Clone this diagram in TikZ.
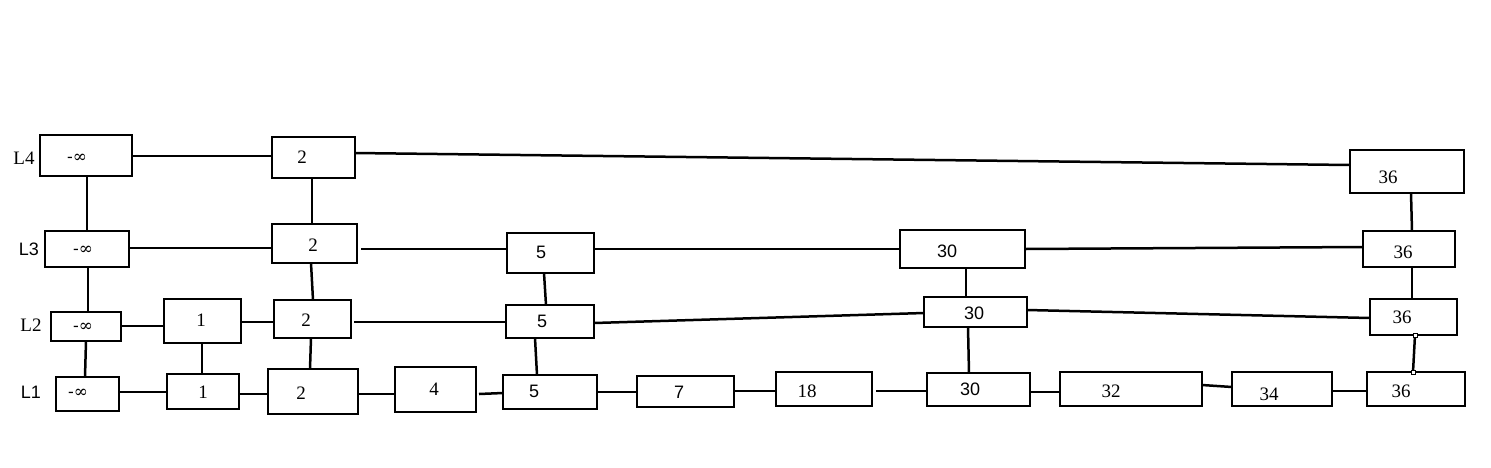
\documentclass[tikz,border=0pt]{standalone}
\usepackage{fontspec}
\setmainfont{Liberation Serif}
\newfontfamily\sansf{Liberation Sans}
\newfontfamily\inff{DejaVu Serif}
\tikzset{
  bx/.style={draw, line width=2.8pt, inner sep=0pt, outer sep=0pt},
  lbl/.style={inner sep=0pt, font=\fontsize{19}{19}\selectfont},
  lbls/.style={inner sep=0pt, font=\fontsize{18}{18}\selectfont\sansf},
  lbli/.style={inner sep=0pt, font=\fontsize{17}{17}\selectfont\inff},
  ln/.style={line width=2.5pt},
  pin/.style={draw, fill=white, line width=0.7pt, minimum size=4pt, inner sep=0pt}
}
\newcommand\mybox[9]{%
  \pgfmathsetmacro\bw{#4-#2}\pgfmathsetmacro\bh{#5-#3}%
  \node[bx, minimum width=\bw pt, minimum height=\bh pt] (#1) at ({(#2+#4)/2},{(#3+#5)/2}) {};
  \node[#8] (#1t) at (#6,#7) {#9};
}
\begin{document}
\begin{tikzpicture}[x=1pt,y=-1pt]
\useasboundingbox[fill=white] (0,0) rectangle (1491,467);
% level labels
\node[lbl] (L4) at (24,158) {L4};
\node[lbls] (L3) at (29,249) {L3};
\node[lbl] (L2) at (31,325) {L2};
\node[lbls] (L1) at (31,392) {L1};
% L4
\mybox{a4}{40}{135}{132}{176}{77}{158}{lbli}{-∞}
\mybox{b4}{272}{137}{355}{178}{302}{157}{lbl}{2}
\mybox{h4}{1350}{150}{1464}{193}{1388}{177}{lbl}{36}
% L3
\mybox{a3}{45}{231}{129}{267}{83}{250}{lbli}{-∞}
\mybox{b3}{272}{224}{357}{263}{313}{245}{lbl}{2}
\mybox{e3}{507}{233}{594}{273}{541}{252}{lbls}{5}
\mybox{g3}{900}{230}{1025}{268}{947}{251}{lbls}{30}
\mybox{h3}{1363}{231}{1455}{267}{1403}{252}{lbl}{36}
% L2
\mybox{a2}{51}{312}{121}{341}{83}{327}{lbli}{-∞}
\mybox{c2}{164}{299}{241}{343}{201}{320}{lbl}{1}
\mybox{b2}{274}{300}{351}{338}{306}{320}{lbl}{2}
\mybox{e2}{506}{305}{594}{338}{542}{321}{lbls}{5}
\mybox{g2}{924}{297}{1027}{327}{974}{313}{lbls}{30}
\mybox{h2}{1370}{299}{1457}{335}{1402}{317}{lbl}{36}
% L1
\mybox{a1}{56}{377}{119}{411}{78}{393}{lbli}{-∞}
\mybox{c1}{167}{374}{239}{409}{203}{392}{lbl}{1}
\mybox{b1}{268}{369}{358}{414}{301}{393}{lbl}{2}
\mybox{d1}{395}{367}{476}{412}{434}{389}{lbl}{4}
\mybox{e1}{503}{375}{597}{409}{534}{391}{lbls}{5}
\mybox{f1}{637}{376}{734}{407}{679}{392}{lbls}{7}
\mybox{k1}{776}{372}{872}{406}{807}{391}{lbl}{18}
\mybox{g1}{927}{373}{1030}{406}{970}{389}{lbls}{30}
\mybox{m1}{1060}{372}{1202}{406}{1111}{391}{lbl}{32}
\mybox{n1}{1232}{372}{1332}{406}{1269}{394}{lbl}{34}
\mybox{h1}{1367}{372}{1465}{406}{1401}{391}{lbl}{36}
% horizontal links
\draw[ln] (a4.east |- 0,156) -- (b4.west |- 0,156);
\draw[ln] (b4.east |- 0,153) -- (h4.west |- 0,165);
\draw[ln] (a3.east |- 0,248) -- (b3.west |- 0,248);
\draw[ln] ([xshift=4pt]b3.east |- 0,249) -- (e3.west |- 0,249);
\draw[ln] (e3.east |- 0,249) -- (g3.west |- 0,249);
\draw[ln] (g3.east |- 0,249) -- (h3.west |- 0,247);
\draw[ln] (a2.east |- 0,326) -- (c2.west |- 0,326);
\draw[ln] (c2.east |- 0,322) -- (b2.west |- 0,322);
\draw[ln] ([xshift=3pt]b2.east |- 0,322) -- (e2.west |- 0,322);
\draw[ln] (e2.east |- 0,323) -- (g2.west |- 0,313);
\draw[ln] (g2.east |- 0,310) -- (h2.west |- 0,318);
\draw[ln] (a1.east |- 0,392) -- (c1.west |- 0,392);
\draw[ln] (c1.east |- 0,394) -- (b1.west |- 0,394);
\draw[ln] (b1.east |- 0,394) -- (d1.west |- 0,394);
\draw[ln] ([xshift=3pt]d1.east |- 0,394) -- (e1.west |- 0,393);
\draw[ln] (e1.east |- 0,392) -- (f1.west |- 0,392);
\draw[ln] (f1.east |- 0,391) -- (k1.west |- 0,391);
\draw[ln] ([xshift=4pt]k1.east |- 0,391) -- (g1.west |- 0,391);
\draw[ln] (g1.east |- 0,392) -- (m1.west |- 0,392);
\draw[ln] (m1.east |- 0,385) -- (n1.west |- 0,387);
\draw[ln] (n1.east |- 0,391) -- (h1.west |- 0,391);
% vertical links
\draw[ln] (a4.south -| 87,0) -- (a3.north -| 87,0);
\draw[ln] (a3.south -| 88,0) -- (a2.north -| 88,0);
\draw[ln] (a2.south -| 86,0) -- (a1.north -| 85,0);
\draw[ln] (c2.south -| 202,0) -- (c1.north -| 202,0);
\draw[ln] (b4.south -| 312,0) -- (b3.north -| 312,0);
\draw[ln] (b3.south -| 311,0) -- (b2.north -| 313,0);
\draw[ln] (b2.south -| 311,0) -- (b1.north -| 310,0);
\draw[ln] (e3.south -| 544,0) -- (e2.north -| 546,0);
\draw[ln] (e2.south -| 535,0) -- (e1.north -| 537,0);
\draw[ln] (g3.south -| 966,0) -- (g2.north -| 966,0);
\draw[ln] (g2.south -| 968,0) -- (g1.north -| 969,0);
\draw[ln] (h4.south -| 1411,0) -- (h3.north -| 1412,0);
\draw[ln] (h3.south -| 1412,0) -- (h2.north -| 1412,0);
\coordinate (p1) at (h2.south -| 1415,0);
\coordinate (p2) at (h1.north -| 1413,0);
\draw[ln] (p1) -- (p2);
\node[pin] (q1) at (p1) {};
\node[pin] (q2) at (p2) {};
\end{tikzpicture}
\end{document}
